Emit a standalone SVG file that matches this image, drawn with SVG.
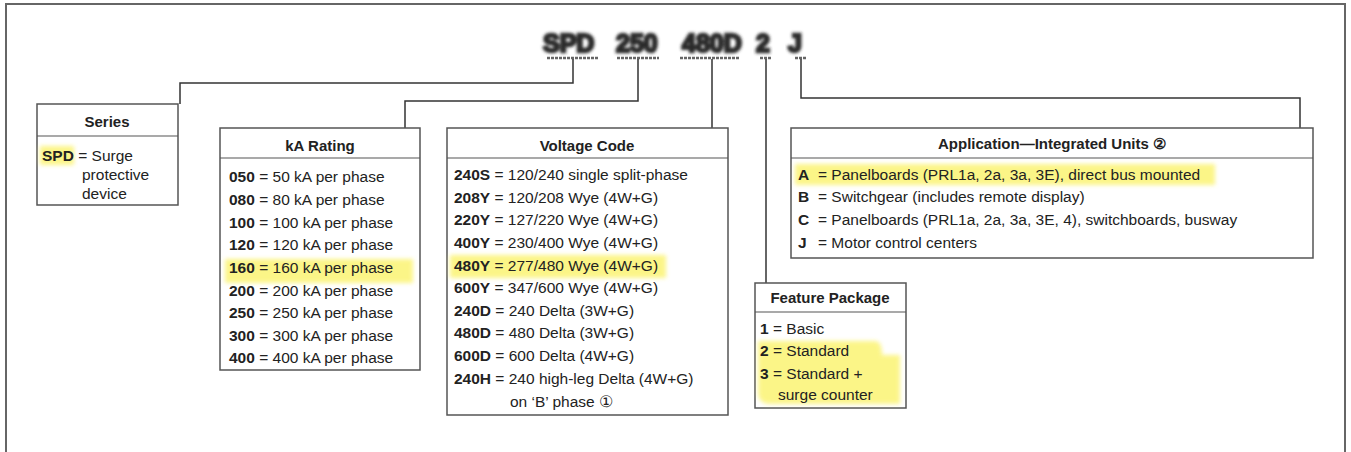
<svg xmlns="http://www.w3.org/2000/svg" width="1351" height="452" viewBox="0 0 1351 452">
<defs>
<filter id="blur" x="-20%" y="-40%" width="140%" height="180%"><feGaussianBlur stdDeviation="1.6"/></filter>
<filter id="soft" x="-10%" y="-30%" width="120%" height="160%"><feGaussianBlur stdDeviation="2"/></filter>
</defs>
<style>
text{font-family:"Liberation Sans",Arial,sans-serif;fill:#222;font-size:15.5px}
.hd{font-weight:bold;text-anchor:middle;font-size:15px}
.k{font-weight:bold}
.box{fill:#fff;stroke:#555;stroke-width:1.5}
.sep{stroke:#555;stroke-width:1.2}
.con{fill:none;stroke:#333;stroke-width:1.5}
.hl{fill:#fbf36a;opacity:0.8;filter:url(#soft)}
.code{font-weight:bold;font-size:25px;fill:#2a2a2a;stroke:#2a2a2a;stroke-width:2.5;filter:url(#blur)}
.ul{stroke:#666;stroke-width:2.5;stroke-dasharray:3 1}
</style>
<rect width="1351" height="452" fill="#fff"/>
<path d="M6,452 V4 H1345 V452" fill="none" stroke="#666" stroke-width="2"/>

<g id="code">
<text class="code" x="543" y="52">SPD</text>
<text class="code" x="616" y="52">250</text>
<text class="code" x="682" y="52">480D</text>
<text class="code" x="756" y="52">2</text>
<text class="code" x="788" y="52">J</text>
<line class="ul" x1="547" y1="58" x2="598" y2="58"/>
<line class="ul" x1="617" y1="58" x2="659" y2="58"/>
<line class="ul" x1="680" y1="58" x2="740" y2="58"/>
<line class="ul" x1="760" y1="58" x2="771" y2="58"/>
<line class="ul" x1="795" y1="58" x2="806" y2="58"/>
</g>

<g id="connectors">
<path class="con" d="M573,59 V83 H180 V104"/>
<path class="con" d="M638,59 V101 H405 V128"/>
<path class="con" d="M712,59 V128"/>
<path class="con" d="M766,59 V283"/>
<path class="con" d="M801,59 V98 H1300 V128"/>
</g>

<g id="series">
<rect class="box" x="37" y="104" width="141" height="101"/>
<line class="sep" x1="37" y1="136" x2="178" y2="136"/>
<text class="hd" x="107" y="127">Series</text>
<rect class="hl" x="40" y="146" width="34" height="19"/>
<text x="42" y="161"><tspan class="k">SPD</tspan> = Surge</text>
<text x="82" y="180">protective</text>
<text x="82" y="199">device</text>
</g>

<g id="ka">
<rect class="box" x="220" y="128" width="200" height="242"/>
<line class="sep" x1="220" y1="158" x2="420" y2="158"/>
<text class="hd" x="320" y="151">kA Rating</text>
<rect class="hl" x="225" y="259" width="188" height="24"/>
<text x="229" y="182"><tspan class="k">050</tspan> = 50 kA per phase</text>
<text x="229" y="205"><tspan class="k">080</tspan> = 80 kA per phase</text>
<text x="229" y="228"><tspan class="k">100</tspan> = 100 kA per phase</text>
<text x="229" y="250"><tspan class="k">120</tspan> = 120 kA per phase</text>
<text x="229" y="273"><tspan class="k">160</tspan> = 160 kA per phase</text>
<text x="229" y="296"><tspan class="k">200</tspan> = 200 kA per phase</text>
<text x="229" y="318"><tspan class="k">250</tspan> = 250 kA per phase</text>
<text x="229" y="341"><tspan class="k">300</tspan> = 300 kA per phase</text>
<text x="229" y="363"><tspan class="k">400</tspan> = 400 kA per phase</text>
</g>

<g id="voltage">
<rect class="box" x="447" y="128" width="281" height="287"/>
<line class="sep" x1="447" y1="158" x2="728" y2="158"/>
<text class="hd" x="587" y="151">Voltage Code</text>
<rect class="hl" x="450" y="255" width="216" height="23"/>
<text x="454" y="180"><tspan class="k">240S</tspan> = 120/240 single split-phase</text>
<text x="454" y="203"><tspan class="k">208Y</tspan> = 120/208 Wye (4W+G)</text>
<text x="454" y="225"><tspan class="k">220Y</tspan> = 127/220 Wye (4W+G)</text>
<text x="454" y="248"><tspan class="k">400Y</tspan> = 230/400 Wye (4W+G)</text>
<text x="454" y="271"><tspan class="k">480Y</tspan> = 277/480 Wye (4W+G)</text>
<text x="454" y="293"><tspan class="k">600Y</tspan> = 347/600 Wye (4W+G)</text>
<text x="454" y="316"><tspan class="k">240D</tspan> = 240 Delta (3W+G)</text>
<text x="454" y="338"><tspan class="k">480D</tspan> = 480 Delta (3W+G)</text>
<text x="454" y="361"><tspan class="k">600D</tspan> = 600 Delta (4W+G)</text>
<text x="454" y="384"><tspan class="k">240H</tspan> = 240 high-leg Delta (4W+G)</text>
<text x="510" y="407">on ‘B’ phase ①</text>
</g>

<g id="feature">
<rect class="box" x="755" y="283" width="151" height="125"/>
<line class="sep" x1="755" y1="312" x2="906" y2="312"/>
<text class="hd" x="830" y="303">Feature Package</text>
<path class="hl" d="M758,341 H875 Q882,341 882,355 H900 V404 H770 Q758,404 758,392 Z"/>
<text x="760" y="334"><tspan class="k">1</tspan> = Basic</text>
<text x="760" y="356"><tspan class="k">2</tspan> = Standard</text>
<text x="760" y="379"><tspan class="k">3</tspan> = Standard +</text>
<text x="778" y="400">surge counter</text>
</g>

<g id="application">
<rect class="box" x="791" y="128" width="522" height="130"/>
<line class="sep" x1="791" y1="158" x2="1313" y2="158"/>
<text class="hd" x="1052" y="149">Application—Integrated Units ②</text>
<rect class="hl" x="795" y="164" width="420" height="21"/>
<text x="798" y="180" class="k">A</text><text x="818" y="180">= Panelboards (PRL1a, 2a, 3a, 3E), direct bus mounted</text>
<text x="798" y="202" class="k">B</text><text x="818" y="202">= Switchgear (includes remote display)</text>
<text x="798" y="225" class="k">C</text><text x="818" y="225">= Panelboards (PRL1a, 2a, 3a, 3E, 4), switchboards, busway</text>
<text x="798" y="248" class="k">J</text><text x="818" y="248">= Motor control centers</text>
</g>
</svg>
